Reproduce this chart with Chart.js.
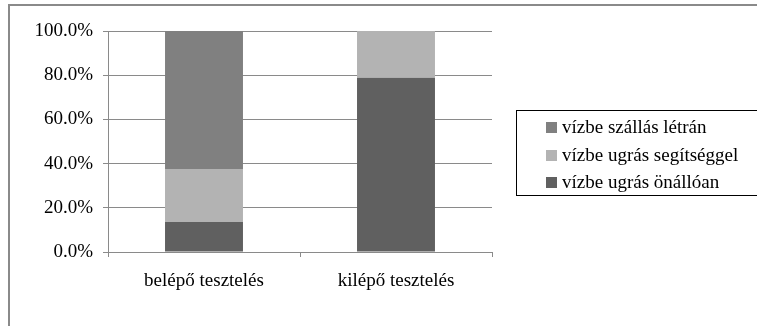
<!DOCTYPE html>
<html>
<head>
<meta charset="utf-8">
<script src="https://cdn.jsdelivr.net/npm/chart.js@4"></script>
<style>
  body { margin: 0; background: #fff; }
  #wrap { position: relative; width: 757px; height: 326px; overflow: hidden; }
  #frame { position: absolute; left: 8px; top: 4px; width: 900px; height: 500px; border-left: 2px solid #8a8a8a; border-top: 2px solid #8a8a8a; }
  #myChart { position: absolute; left: 0; top: 0; }
  #legend { position: absolute; left: 516px; top: 110px; width: 260px; height: 84px; border: 1px solid #000; font: 19px "Liberation Serif", serif; color: #000; }
  #legend div { position: absolute; left: 29px; white-space: nowrap; line-height: 22px; }
  #legend span { display: inline-block; width: 11px; height: 11px; margin-right: 5px; vertical-align: 0px; }
</style>
</head>
<body>
<div id="wrap">
  <div id="frame"></div>
  <canvas id="myChart" width="757" height="326"></canvas>
  <div id="legend"></div>
</div>
<script>
const categories = ['belépő tesztelés', 'kilépő tesztelés'];
const seriesNames = ['vízbe ugrás önállóan', 'vízbe ugrás segítséggel', 'vízbe szállás létrán'];
const onallo = [13.6, 78.9];
const segitseg = [24.0, 21.1];
const letran = [62.4, 0];
const colors = ['#606060', '#b3b3b3', '#808080'];

const font = { family: '"Liberation Serif", serif', size: 19 };
const ctx = document.getElementById('myChart');

const chart = new Chart(ctx, {
    type: 'bar',
    data: {
        labels: categories,
        datasets: [onallo, segitseg, letran].map((d, i) => ({
            label: seriesNames[i],
            data: d,
            backgroundColor: colors[i],
            categoryPercentage: 1,
            barPercentage: 0.406,
        })),
    },
    options: {
        responsive: false,
        animation: false,
        layout: { padding: { left: 0, top: 31, right: 265, bottom: 0 } },
        plugins: {
            legend: { display: false },
            tooltip: { enabled: false },
        },
        scales: {
            x: {
                stacked: true,
                afterFit: s => { s.height = 74; },
                grid: { offset: true, drawOnChartArea: false, tickLength: 5, color: '#8a8a8a' },
                border: { color: '#8a8a8a' },
                ticks: { color: '#000', font: font, padding: 13 },
            },
            y: {
                stacked: true,
                min: 0,
                max: 100,
                afterFit: s => { s.width = 108; },
                grid: { color: '#8a8a8a', tickLength: 5 },
                border: { color: '#8a8a8a' },
                ticks: {
                    stepSize: 20,
                    color: '#000',
                    font: font,
                    padding: 10,
                    callback: v => v.toFixed(1) + '%',
                },
            },
        },
    },
});

// legend in reverse order like the original
const legendEl = document.getElementById('legend');
const rows = [16, 44, 71];
chart.data.datasets.slice().reverse().forEach((ds, i) => {
    const row = document.createElement('div');
    row.style.top = (rows[i] - 11) + 'px';
    row.innerHTML = '<span style="background:' + ds.backgroundColor + '"></span>' + ds.label;
    legendEl.appendChild(row);
});
</script>
</body>
</html>
